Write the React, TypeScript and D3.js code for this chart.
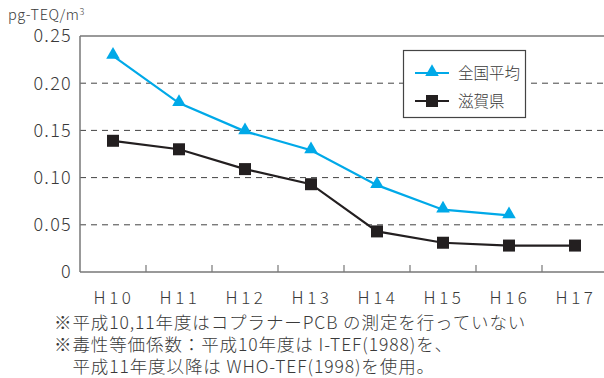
import React from "react";
import * as d3 from "d3";

const categories = ["H10", "H11", "H12", "H13", "H14", "H15", "H16", "H17"];
const nationalAvg: (number | null)[] = [0.229, 0.179, 0.149, 0.129, 0.092, 0.066, 0.06, null];
const shiga: (number | null)[] = [0.139, 0.13, 0.109, 0.093, 0.043, 0.031, 0.028, 0.028];
const yTicks = [0, 0.05, 0.1, 0.15, 0.2, 0.25];
const seriesNames = ["全国平均", "滋賀県"];
const notes = [
  "※平成10,11年度はコプラナーPCB の測定を行っていない",
  "※毒性等価係数：平成10年度は I-TEF(1988)を、",
  "　平成11年度以降は WHO-TEF(1998)を使用。",
];

const W = 604;
const H = 378;
const left = 80;
const top = 36;
const bottom = 272;
const right = 608;
const font = "'Noto Sans CJK JP', 'Noto Sans', sans-serif";
const blue = "#00a9e8";
const dark = "#231f20";
const textColor = "#3a3a3a";

export default function App() {
  const x = d3.scaleBand<string>().domain(categories).range([left, right]);
  const y = d3.scaleLinear().domain([0, 0.25]).range([bottom, top]);
  const cx = (c: string) => (x(c) ?? 0) + x.bandwidth() / 2;

  const line = d3
    .line<{ c: string; v: number | null }>()
    .defined((d) => d.v !== null)
    .x((d) => cx(d.c))
    .y((d) => y(d.v as number));

  const blueData = categories.map((c, i) => ({ c, v: nationalAvg[i] }));
  const darkData = categories.map((c, i) => ({ c, v: shiga[i] }));
  const tri = d3.symbol().type(d3.symbolTriangle).size(80)();

  return (
    <svg
      width={W}
      height={H}
      style={{ position: "absolute", left: 0, top: 0, background: "#fff" }}
      fontFamily={font}
      fontWeight={300}
    >
      <text x={8} y={20} fontSize={14.5} letterSpacing={0.6} fill={textColor}>
        pg-TEQ/m<tspan fontSize={9} dy={-5}>3</tspan>
      </text>

      {/* gridlines */}
      {yTicks
        .filter((t) => t > 0 && t < 0.25)
        .map((t) => (
          <line
            key={t}
            x1={left}
            x2={W}
            y1={y(t)}
            y2={y(t)}
            stroke="#444"
            strokeWidth={1}
            strokeDasharray="6,5"
          />
        ))}

      {/* frame */}
      <line x1={left} x2={W} y1={y(0.25)} y2={y(0.25)} stroke="#777" strokeWidth={1.5} />
      <line x1={left} x2={left} y1={top} y2={bottom} stroke="#777" strokeWidth={1.5} />
      <line x1={left} x2={W} y1={bottom} y2={bottom} stroke="#777" strokeWidth={1.5} />

      {/* y ticks */}
      {yTicks.map((t) => (
        <text
          key={t}
          x={72}
          y={y(t)}
          dy="0.36em"
          textAnchor="end"
          fontSize={18}
          letterSpacing={1.3}
          fill={textColor}
        >
          {t === 0 ? "0" : t.toFixed(2)}
        </text>
      ))}

      {/* x ticks */}
      {categories.slice(1).map((c) => (
        <line
          key={c}
          x1={x(c)}
          x2={x(c)}
          y1={bottom}
          y2={bottom - 7}
          stroke="#777"
          strokeWidth={1.2}
        />
      ))}
      {categories.map((c) => (
        <text
          key={c}
          x={cx(c) + 1}
          y={304}
          textAnchor="middle"
          fontSize={17}
          letterSpacing={3.5}
          fill={textColor}
        >
          {c}
        </text>
      ))}

      {/* series */}
      <path d={line(darkData) ?? ""} fill="none" stroke={dark} strokeWidth={2.2} />
      {darkData
        .filter((d) => d.v !== null)
        .map((d) => (
          <rect
            key={d.c}
            x={cx(d.c) - 6}
            y={y(d.v as number) - 6}
            width={12}
            height={12}
            fill={dark}
          />
        ))}
      <path d={line(blueData) ?? ""} fill="none" stroke={blue} strokeWidth={2.2} />
      {blueData
        .filter((d) => d.v !== null)
        .map((d) => (
          <path
            key={d.c}
            d={tri ?? ""}
            transform={`translate(${cx(d.c)},${y(d.v as number) - 1})`}
            fill={blue}
          />
        ))}

      {/* legend */}
      <g>
        <rect x={403.5} y={50.5} width={122} height={67} fill="#fff" stroke="#444" strokeWidth={1.2} />
        <line x1={415} x2={449} y1={73} y2={73} stroke={blue} strokeWidth={2.2} />
        <path d={tri ?? ""} transform="translate(432,72)" fill={blue} />
        <text x={458} y={79} fontSize={15.5} fill={textColor}>
          {seriesNames[0]}
        </text>
        <line x1={415} x2={449} y1={101} y2={101} stroke={dark} strokeWidth={2.2} />
        <rect x={426} y={95} width={12} height={12} fill={dark} />
        <text x={458} y={107} fontSize={15.5} fill={textColor}>
          {seriesNames[1]}
        </text>
      </g>

      {/* notes */}
      {notes.map((n, i) => (
        <text
          key={i}
          x={54}
          y={329 + i * 22}
          fontSize={17.5}
          letterSpacing={0.9}
          fill={textColor}
          style={{ whiteSpace: "pre" }}
        >
          {n}
        </text>
      ))}
    </svg>
  );
}
